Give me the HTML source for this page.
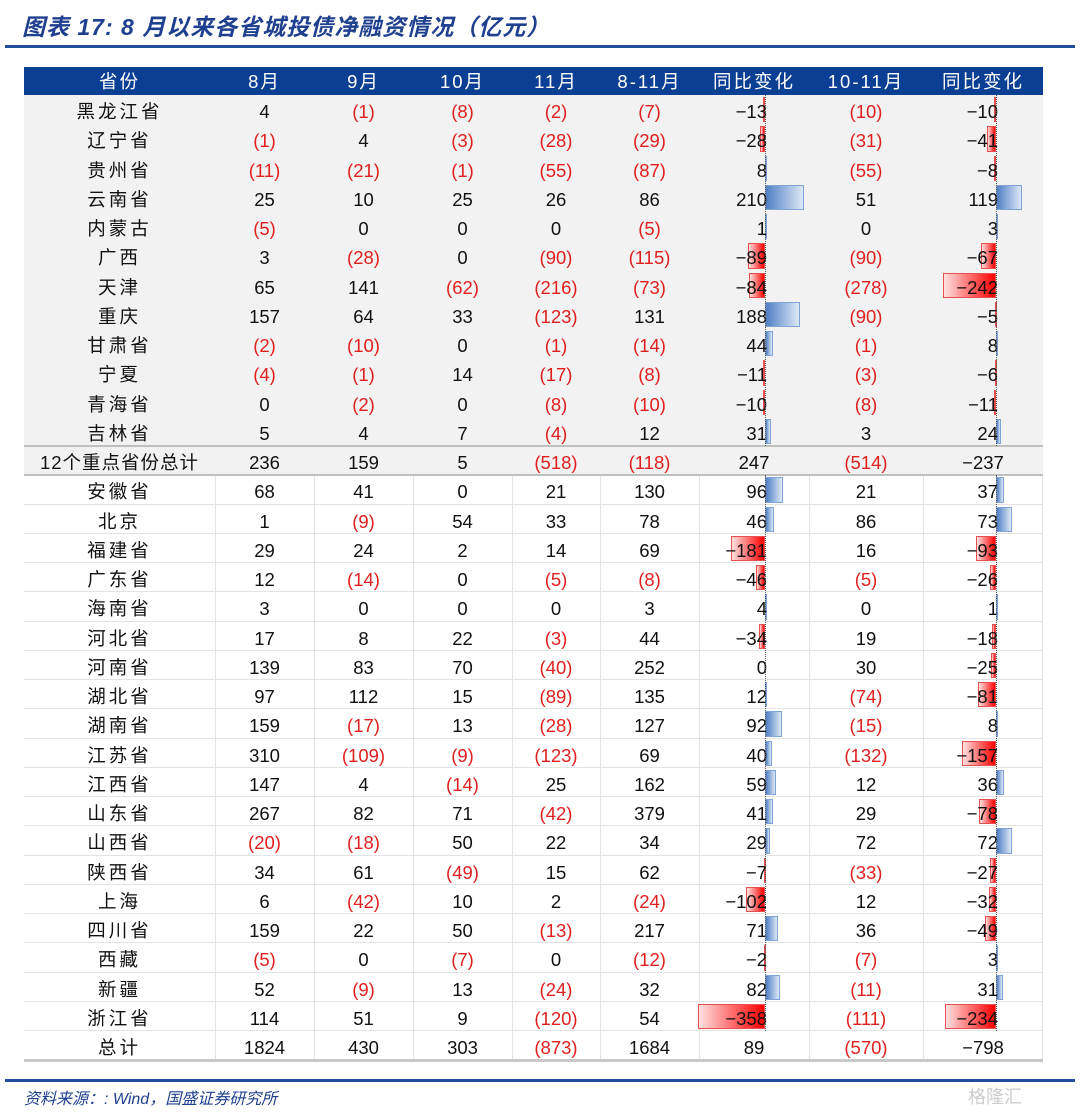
<!DOCTYPE html>
<html><head><meta charset="utf-8">
<style>
body{margin:0;width:1080px;height:1114px;background:#fff;position:relative;overflow:hidden;font-family:"Liberation Sans","Noto Sans CJK SC",sans-serif;}
.abs{position:absolute;}
.title{left:22px;top:8px;font-size:23px;font-weight:bold;font-style:italic;color:#1f3f8f;font-family:"Liberation Sans","Noto Sans CJK SC",sans-serif;letter-spacing:1px;}
.cell{position:absolute;height:29.25px;line-height:33px;font-size:18.5px;color:#111;text-align:center;white-space:nowrap;}
.neg{color:#e02020;}
.hdr{color:#fff;}
</style></head><body>
<div class="abs title">图表 17:  8 月以来各省城投债净融资情况（亿元）</div>
<div class="abs" style="left:5px;top:45px;width:1070px;height:3px;background:#1f4e9a"></div>
<div id="tbl" class="abs" style="left:24px;top:67px;width:1019px;height:995px;"></div>
<div class="abs" style="left:5px;top:1079px;width:1070px;height:3px;background:#1f4e9a"></div>
<div class="abs" style="left:24px;top:1085px;font-size:16px;font-style:italic;color:#1f3f8f;">资料来源：: Wind，国盛证券研究所</div>
<div class="abs" style="left:968px;top:1083px;font-size:18px;color:#ccc;">格隆汇</div>
<script>
const provinces=["黑龙江省","辽宁省","贵州省","云南省","内蒙古","广西","天津","重庆","甘肃省","宁夏","青海省","吉林省","12个重点省份总计","安徽省","北京","福建省","广东省","海南省","河北省","河南省","湖北省","湖南省","江苏省","江西省","山东省","山西省","陕西省","上海","四川省","西藏","新疆","浙江省","总计"];
const aug=[4,-1,-11,25,-5,3,65,157,-2,-4,0,5,236,68,1,29,12,3,17,139,97,159,310,147,267,-20,34,6,159,-5,52,114,1824];
const sep=[-1,4,-21,10,0,-28,141,64,-10,-1,-2,4,159,41,-9,24,-14,0,8,83,112,-17,-109,4,82,-18,61,-42,22,0,-9,51,430];
const oct=[-8,-3,-1,25,0,0,-62,33,0,14,0,7,5,0,54,2,0,0,22,70,15,13,-9,-14,71,50,-49,10,50,-7,13,9,303];
const nov=[-2,-28,-55,26,0,-90,-216,-123,-1,-17,-8,-4,-518,21,33,14,-5,0,-3,-40,-89,-28,-123,25,-42,22,15,2,-13,0,-24,-120,-873];
const augNov=[-7,-29,-87,86,-5,-115,-73,131,-14,-8,-10,12,-118,130,78,69,-8,3,44,252,135,127,69,162,379,34,62,-24,217,-12,32,54,1684];
const yoy1=[-13,-28,8,210,1,-89,-84,188,44,-11,-10,31,247,96,46,-181,-46,4,-34,0,12,92,40,59,41,29,-7,-102,71,-2,82,-358,89];
const octNov=[-10,-31,-55,51,0,-90,-278,-90,-1,-3,-8,3,-514,21,86,16,-5,0,19,30,-74,-15,-132,12,29,72,-33,12,36,-7,-11,-111,-570];
const yoy2=[-10,-41,-8,119,3,-67,-242,-5,8,-6,-11,24,-237,37,73,-93,-26,1,-18,-25,-81,8,-157,36,-78,72,-27,-32,-49,3,31,-234,-798];
const headers=["省份","8月","9月","10月","11月","8-11月","同比变化","10-11月","同比变化"];
const colNames=["province","aug","sep","oct","nov","aug-nov","yoy-aug-nov","oct-nov","yoy-oct-nov"];
const T=document.getElementById('tbl');
const bounds=[0,191,290,389,488,576,675,785,899,1019];
const RH=29.25, HH=28;
const ax1=741, ax2=972, sc1=0.187, sc2=0.218;
function div(x,y,w,h,style){const d=document.createElement('div');d.style.cssText='position:absolute;left:'+x+'px;top:'+y+'px;width:'+w+'px;height:'+h+'px;'+(style||'');T.appendChild(d);return d;}
const hb=div(0,0,1019,HH,'background:#0a3f93');


headers.forEach((h,i)=>{const c=div(bounds[i],0,bounds[i+1]-bounds[i],HH,'');c.className='cell hdr';c.style.height=HH+'px';c.style.lineHeight=(HH+2)+'px';c.style.fontFamily='"Liberation Sans","Noto Sans CJK SC",sans-serif';c.style.letterSpacing='2px';c.textContent=h;

});
const g=div(0,HH,1019,RH*13,'background:#f2f2f2');


const top0=HH;
for(let r=13;r<33;r++){div(0,top0+RH*r+RH-1,1019,1,'background:#e3e3e3');}
for(let b=1;b<9;b++){div(bounds[b],top0+RH*13,1,RH*20,'background:#e3e3e3');}
div(1018,top0+RH*13,1,RH*20,'background:#e3e3e3');
div(0,top0+RH*12-1,1019,2,'background:#bfbfbf');
div(0,top0+RH*13-1,1019,2,'background:#bfbfbf');
div(0,top0+RH*33-1,1019,3,'background:#c8c8c8');
function paren(v){return v<0?'('+(-v)+')':String(v);}
function bar(ax,sc,v,y,name){if(v===0)return;const w=Math.max(1.5,Math.abs(v)*sc);const x=v<0?ax-w:ax;
const st=v<0?'background:linear-gradient(to right,#ffe0e0,#ff0000);border:1px solid #e85050;box-sizing:border-box;':'background:linear-gradient(to right,#4f7fc4,#dde8f6);border:1px solid #7fa3d6;box-sizing:border-box;';
const b=div(x,y+2,w,RH-4,st);

}
const ser=[aug,sep,oct,nov,augNov];
for(let r=0;r<33;r++){
  const y=top0+RH*r;
  const noBar=(r===12||r===32);
  const pc=div(bounds[0],y,bounds[1]-bounds[0],RH,'');pc.className='cell';pc.textContent=provinces[r];pc.style.letterSpacing=r===12?'1px':'3px';
  
  
  ser.forEach((s,i)=>{const c=div(bounds[i+1],y,bounds[i+2]-bounds[i+1],RH,'');c.className='cell'+(s[r]<0?' neg':'');c.textContent=paren(s[r]);
  
  });
  if(!noBar)bar(ax1,sc1,yoy1[r],y,'yoy-aug-nov-bar');
  let c=div(bounds[6],y,noBar?bounds[7]-bounds[6]:ax1-bounds[6]+2,RH,'');c.className='cell';if(!noBar)c.style.textAlign='right';c.textContent=yoy1[r]<0?'−'+(-yoy1[r]):String(yoy1[r]);
  
  
  c=div(bounds[7],y,bounds[8]-bounds[7],RH,'');c.className='cell'+(octNov[r]<0?' neg':'');c.textContent=paren(octNov[r]);
  
  
  if(!noBar)bar(ax2,sc2,yoy2[r],y,'yoy-oct-nov-bar');
  c=div(bounds[8],y,noBar?bounds[9]-bounds[8]:ax2-bounds[8]+2,RH,'');c.className='cell';if(!noBar)c.style.textAlign='right';c.textContent=yoy2[r]<0?'−'+(-yoy2[r]):String(yoy2[r]);
  
  
}
[[ax1,'yoy-aug-nov-axis'],[ax2,'yoy-oct-nov-axis']].forEach(a=>{for(const [r0,r1] of [[0,12],[13,32]]){const d=div(a[0],top0+RH*r0,1,RH*(r1-r0),'border-left:1px dotted #555;box-sizing:border-box;');

}});
</script>
</body></html>
